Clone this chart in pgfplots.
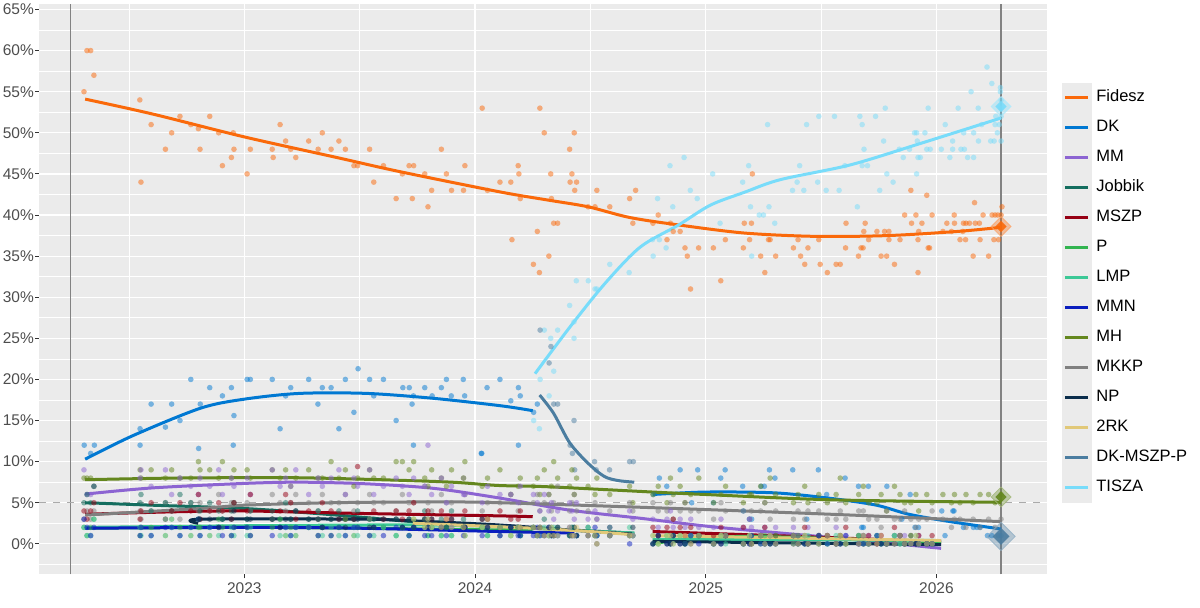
\documentclass[border=0pt]{standalone}
\usepackage{pgfplots}
\pgfplotsset{compat=1.18}
\usepackage{pgfplotstable}
\usepackage{fontspec}
\setmainfont{Liberation Sans}

\definecolor{cFid}{RGB}{250,105,10}
\definecolor{cDK}{RGB}{0,120,210}
\definecolor{cMM}{RGB}{140,100,210}
\definecolor{cJob}{RGB}{20,110,95}
\definecolor{cMSZP}{RGB}{150,0,20}
\definecolor{cP}{RGB}{50,180,80}
\definecolor{cLMP}{RGB}{60,200,150}
\definecolor{cMMN}{RGB}{10,30,190}
\definecolor{cMH}{RGB}{100,135,30}
\definecolor{cMKKP}{RGB}{128,128,128}
\definecolor{cNP}{RGB}{10,45,75}
\definecolor{cRK}{RGB}{225,200,120}
\definecolor{cDMP}{RGB}{75,125,160}
\definecolor{cTISZA}{RGB}{120,220,250}
\definecolor{panelbg}{RGB}{235,235,235}
\definecolor{tickgrey}{RGB}{77,77,77}
\definecolor{refgrey}{RGB}{130,130,130}

\pgfplotsset{
  pts/.style={only marks, mark=*, mark size=2.8pt, color=#1,
    mark options={draw opacity=0, fill opacity=0.5, fill=#1}, forget plot},
  trend/.style={no marks, line width=3pt, color=#1, smooth, line join=round, forget plot},
  halo/.style={forget plot, only marks, mark=square*, mark size=7pt,
    mark options={rotate=45, fill=#1, draw=#1!60!white, line width=0.8pt, fill opacity=0.35, draw opacity=0.8}},
  core/.style={forget plot, only marks, mark=square*, mark size=4pt,
    mark options={rotate=45, fill=#1, draw opacity=0, fill opacity=0.9}},
}

\pgfplotstableread{
x y
2022.305 55
2022.318 60
2022.334 60
2022.348 57
2022.547 54
2022.552 44
2022.596 51
2022.658 48
2022.685 50
2022.721 52
2022.768 51
2022.801 50.5
2022.808 48
2022.850 52
2022.889 50
2022.905 46
2022.944 47
2022.952 50
2022.955 48
2023.012 45
2023.026 48
2023.121 48
2023.125 47
2023.155 51
2023.179 49
2023.201 48
2023.223 47
2023.279 49
2023.320 48
2023.338 50
2023.376 48
2023.410 49
2023.438 48
2023.475 46
2023.491 46
2023.543 48
2023.561 44
2023.603 46
2023.658 42
2023.685 45
2023.714 46
2023.734 46
2023.728 42
2023.782 45
2023.796 41
2023.812 43
2023.854 48
2023.876 45
2023.898 43
2023.950 43
2023.956 46
2024.031 53
2024.054 43
2024.108 44
2024.155 44
2024.187 46
2024.190 45
2024.196 42
2024.160 37
2024.253 34
2024.270 38
2024.279 33
2024.281 53
2024.300 50
2024.320 35
2024.328 45
2024.331 42
2024.341 39
2024.358 39
2024.410 48
2024.420 45
2024.412 44
2024.430 50
2024.440 44
2024.432 43
2024.490 41
2024.520 41
2024.528 43
2024.584 41
2024.670 42
2024.696 43
2024.684 39
2024.771 39
2024.794 40
2024.847 39
2024.859 38
2024.889 38
2024.832 37
2024.910 36
2024.920 35
2024.934 31
2024.969 36
2025.033 36
2025.065 32
2025.085 37
2025.163 36
2025.167 39
2025.198 39
2025.190 37
2025.202 45
2025.238 35
2025.256 33
2025.272 37
2025.279 37
2025.303 35
2025.380 36
2025.400 37
2025.411 35
2025.429 34
2025.443 36
2025.490 37
2025.496 34
2025.527 33
2025.565 34
2025.583 34
2025.608 39
2025.606 36
2025.662 35
2025.673 36
2025.682 36
2025.685 38
2025.691 39
2025.706 37
2025.742 38
2025.760 35
2025.775 38
2025.794 38
2025.784 35
2025.794 37
2025.818 34
2025.842 37
2025.862 40
2025.889 43
2025.892 39
2025.911 40
2025.920 33
2025.923 38
2025.920 37
2025.937 39
2025.958 42.4
2025.964 36
2025.970 36
2025.981 40
2026.028 38
2026.045 39
2026.065 38
2026.077 40
2026.078 39
2026.102 37
2026.117 39
2026.126 37
2026.128 39
2026.143 39
2026.114 38
2026.159 35
2026.165 41.5
2026.168 39
2026.186 39
2026.189 37
2026.202 40
2026.226 35
2026.241 40
2026.254 40
2026.266 40
2026.280 40
2026.249 37
2026.269 37
2026.284 41
}\tFid

\pgfplotstableread{
x y
2024.254 15
2024.279 14
2024.282 20
2024.300 26
2024.321 18
2024.328 25
2024.341 21
2024.358 26
2024.410 29
2024.429 27
2024.429 25
2024.439 32
2024.491 32
2024.520 31
2024.528 31
2024.584 34
2024.668 33
2024.769 37
2024.772 35
2024.791 42
2024.799 37
2024.828 36
2024.845 46
2024.857 41
2024.906 47
2024.933 43
2024.963 42
2025.030 45
2025.062 39
2025.160 44
2025.186 46
2025.194 41
2025.199 35
2025.232 40
2025.250 40
2025.268 51
2025.274 41
2025.299 39
2025.376 43
2025.396 44
2025.407 46
2025.425 43
2025.437 51
2025.485 44
2025.490 52
2025.522 43
2025.558 52
2025.578 43
2025.603 46
2025.657 41
2025.668 52
2025.678 51
2025.678 46
2025.686 48
2025.701 46
2025.736 52
2025.754 43
2025.771 49
2025.778 53
2025.785 45
2025.812 44
2025.839 48
2025.856 47
2025.883 48
2025.905 50
2025.914 50
2025.914 45
2025.917 49
2025.920 47
2025.930 47
2025.950 50
2025.958 48
2025.964 53
2025.973 48
2026.021 48
2026.038 51
2026.058 47
2026.070 48
2026.070 49
2026.094 53
2026.106 48
2026.118 50
2026.121 48
2026.135 47
2026.150 55
2026.161 47
2026.161 50
2026.181 53
2026.182 49
2026.196 51
2026.219 58
2026.235 49
2026.240 56
2026.250 49
2026.254 51
2026.257 52
2026.264 50
2026.272 51
2026.277 55.5
2026.277 55
2026.280 53
2026.280 49
2026.280 52
2026.280 54
}\tTISZA

\pgfplotstableread{
x y
2022.306 12
2022.334 11
2022.350 12
2022.548 14
2022.548 12
2022.596 17
2022.658 14.2
2022.685 17
2022.721 15
2022.768 20
2022.802 11.6
2022.809 17
2022.850 19
2022.905 18
2022.944 19
2022.952 12
2022.955 15.6
2023.012 20
2023.026 20
2023.121 20
2023.155 14
2023.179 18
2023.201 19
2023.279 20
2023.319 17
2023.338 19
2023.376 19
2023.410 14
2023.438 20
2023.475 16
2023.493 21.3
2023.543 20
2023.561 18
2023.603 20
2023.658 15
2023.687 19
2023.715 19
2023.727 17
2023.733 18
2023.733 12
2023.782 19
2023.814 18
2023.854 19
2023.876 20
2023.897 18
2023.949 20
2023.955 18
2024.027 11
2024.029 11
2024.052 19
2024.108 20
2024.155 17.4
2024.188 12
2024.188 19
2024.196 18
2024.254 16
2024.270 17
2024.773 6
2024.799 8
2024.831 7
2024.889 9
2024.939 5
2024.965 9
2025.033 5
2025.065 8
2025.084 9
2025.160 7
2025.163 4
2025.189 3
2025.199 3
2025.240 7
2025.254 7
2025.276 9
2025.300 8
2025.377 9
2025.438 3
2025.488 9
2025.524 6
2025.604 8
2025.662 7
2025.676 2
2025.683 2
2025.705 7
2025.785 7
2025.850 3
2025.886 6
2025.907 2
2025.922 2
2026.023 4
2026.037 1
2026.071 4
2026.076 4
2026.117 2
2026.160 2
2026.175 2
2026.189 2
2026.221 1
2026.240 1
2026.268 1
2026.280 1
}\tDK

\pgfplotstableread{
x y
2024.282 26
2024.321 22
2024.329 24
2024.341 17
2024.358 17
2024.412 12
2024.422 11
2024.429 15
2024.432 9
2024.518 10
2024.525 9
2024.583 9
2024.670 10
2024.686 10
}\tDMP

\pgfplotstableread{
x MH MKKP MM JOB MSZP P LMP MMN NP RK
2022.305 8 3 9 5 4 2 2 3 nan nan
2022.318 8 4 6 6 3 1 1 2 nan nan
2022.334 8 3 6 5 4 2 1 1 nan nan
2022.348 7 4 7 7 5 3 3 2 nan nan
2022.548 9 4 8 5 3 1 2 1 nan nan
2022.552 8 3 9 6 4 2 1 2 nan nan
2022.596 9 4 7 4 5 2 1 1 nan nan
2022.658 8 5 9 5 3 1 3 2 nan nan
2022.685 9 4 6 4 4 3 2 2 nan nan
2022.721 8 3 8 6 5 2 1 1 nan nan
2022.768 8 5 7 5 4 1 2 2 nan nan
2022.801 10 4 6 3 6 2 3 3 3 nan
2022.808 9 5 8 4 3 2 1 1 3 nan
2022.850 9 4 7 5 4 1 2 2 3 nan
2022.889 8 6 9 4 5 3 1 2 2 nan
2022.905 10 4 6 3 4 2 3 1 3 nan
2022.944 8 5 8 4 3 1 2 1 3 nan
2022.955 9 5 7 5 5 2 1 2 4 nan
2023.012 9 5 8 3 4 2 1 2 3 nan
2023.026 8 4 6 4 6 1 2 1 3 nan
2023.121 9 6 9 4 3 2 3 1 3 nan
2023.155 8 5 7 3 4 3 1 2 2 nan
2023.179 9 4 8 5 6 1 2 2 3 nan
2023.201 7 5 7 3 5 2 1 1 3 nan
2023.223 8 6 9 4 3 1 2 2 4 nan
2023.279 9 5 6 3 4 2 2 2 3 nan
2023.320 8 4 8 4 3 1 3 1 3 nan
2023.338 8 6 7 2 5 2 1 2 2 nan
2023.376 10 5 8 3 4 1 2 1 3 nan
2023.410 8 5 9 4 3 2 1 2 3 nan
2023.438 9 6 6 3 3 3 1 1 2 nan
2023.475 7 4 8 3 3 1 2 2 3 nan
2023.491 8 5 7 4 9.4 2 1 2 3 nan
2023.543 9 6 9 3 3 1 3 1 2 nan
2023.561 8 5 6 3 4 2 1 2 2 nan
2023.603 8 5 7 2 3 2 2 1 3 nan
2023.658 10 4 8 3 4 1 1 2 3 nan
2023.685 10 6 7 2 3 2 2 2 2 nan
2023.714 9 5 6 3 4 1 1 1 3 nan
2023.734 10 5 8 2 5 3 2 2 2 3
2023.782 8 7 7 4 3 2 3 1 3 2
2023.796 7 5 12 3 4 1 1 2 2 3
2023.812 9 4 6 2 3 2 2 1 3 2
2023.854 8 6 8 3 4 1 1 2 2 2
2023.876 7 5 5 2 3 2 2 1 2 3
2023.898 9 5 7 4 3 1 1 2 3 2
2023.950 8 8 6 3 2 2 2 1 2 2
2023.956 10 6 6 2 4 1 1 2 2 1
2024.031 7 4 5 2 3 2 2 1 3 2
2024.054 8 5 7 3 3 1 1 2 2 3
2024.108 9 5 6 1 4 2 2 1 2 2
2024.155 6 6 6 2 3 1 1 2 2 1
2024.187 7 4 5 2 3 2 2 1 2 2
2024.196 8 5 7 1 4 1 1 1 2 2
}\tA

\pgfplotstableread{
x MH MKKP MM JOB LMP MMN NP RK
2024.253 7 5 6 2 2 1 2 2
2024.270 8 6 5 1 1 2 1 1
2024.281 6 4 4 2 1 1 2 2
2024.300 9 5 6 3 2 1 1 1
2024.320 6 6 4 1 1 2 2 1
2024.331 7 4 5 2 1 1 1 2
2024.341 10 5 3 1 2 1 1 1
2024.358 8 7 4 2 1 1 2 1
2024.410 7 4 5 1 1 2 1 2
2024.420 9 5 4 2 2 1 1 1
2024.430 6 6 3 2 1 1 2 1
2024.440 8 4 5 1 1 1 1 2
2024.490 7 4 3 2 2 1 1 1
2024.520 6 5 4 1 1 2 1 1
2024.528 8 3 3 1 1 1 0 0
2024.584 6 4 2 2 1 1 1 1
2024.670 7 5 4 1 2 0 1 1
2024.684 5 4 3 1 1 1 2 1
}\tB

\pgfplotstableread{
x MH MKKP MM MSZP P LMP MMN NP RK
2024.771 6 5 3 2 0 1 0 0 1
2024.794 7 4 2 1 0 0 1 1 0
2024.832 5 4 3 2 1 1 0 0 1
2024.847 8 5 4 1 0 1 0 0 1
2024.859 6 3 2 3 1 0 1 1 0
2024.889 7 4 3 2 1 1 0 0 1
2024.910 5 5 2 1 0 0 0 0 1
2024.935 6 4 3 2 1 1 1 0 0
2024.970 8 4 2 1 1 1 0 1 1
2025.034 5 3 2 1 0 0 0 0 0
2025.066 6 5 3 2 1 1 0 0 1
2025.086 7 4 1 1 1 0 1 1 1
2025.163 5 4 2 2 0 0 0 0 0
2025.190 6 3 3 1 1 1 0 0 1
2025.198 6 4 2 0 1 0 1 0 0
2025.238 7 4 1 1 0 1 0 1 1
2025.256 5 5 2 2 1 0 0 0 0
2025.279 8 3 1 1 0 1 0 0 1
2025.303 6 4 2 1 1 0 0 0 0
2025.380 5 3 2 0 1 0 1 1 1
2025.400 6 4 1 1 0 1 0 0 0
2025.429 7 3 1 2 1 0 0 0 1
2025.443 5 4 2 0 0 1 0 0 0
2025.490 6 4 1 1 1 0 1 0 0
2025.527 5 3 1 1 0 0 0 1 1
2025.565 6 3 2 0 0 1 0 0 0
2025.583 8 4 1 1 1 0 0 0 1
2025.607 5 3 1 2 0 0 1 0 0
2025.663 6 4 0 1 1 1 0 0 0
2025.683 7 4 1 0 0 0 0 1 1
2025.706 5 3 1 1 0 0 0 0 0
2025.742 5 3 0 0 1 1 1 0 0
2025.760 6 2 1 1 0 0 0 0 1
2025.784 4 4 0 0 0 0 0 0 0
2025.818 7 3 1 2 1 1 0 0 0
2025.842 6 3 0 1 0 0 1 1 1
2025.862 5 4 1 0 0 0 0 0 0
2025.889 5 3 0 1 1 0 0 0 0
2025.911 6 2 0 0 0 1 0 0 1
2025.923 4 3 1 1 0 0 0 0 0
2025.958 6 3 0 0 0 0 0 0 0
2025.981 5 4 0 1 0 0 0 0 0
2026.028 6 3 nan nan nan nan nan nan nan
2026.065 5 2 nan nan nan nan nan nan nan
2026.078 6 3 nan nan nan nan nan nan nan
2026.102 5 3 nan nan nan nan nan nan nan
2026.128 6 2 nan nan nan nan nan nan nan
2026.159 5 3 nan nan nan nan nan nan nan
2026.189 6 2 nan nan nan nan nan nan nan
2026.226 6 3 nan nan nan nan nan nan nan
2026.254 5 2 nan nan nan nan nan nan nan
2026.280 6 3 nan nan nan nan nan nan nan
}\tC

\begin{document}
\begin{tikzpicture}[x=1pt,y=1pt]
\useasboundingbox (0,0) rectangle (1200,608);
\begin{axis}[
  at={(39pt,33.5pt)}, anchor=south west,
  width=1008pt, height=570.5pt, scale only axis,
  xmin=2022.110, xmax=2026.479, ymin=-3.73, ymax=65.67,
  axis background/.style={fill=panelbg},
  axis line style={draw=none},
  xtick={2023,2024,2025,2026}, xticklabels={2023,2024,2025,2026},
  minor xtick={2022.5,2023.5,2024.5,2025.5},
  ytick={0,5,...,65},
  yticklabels={0\%,5\%,10\%,15\%,20\%,25\%,30\%,35\%,40\%,45\%,50\%,55\%,60\%,65\%},
  minor ytick={-2.5,2.5,...,62.5},
  grid=both,
  major grid style={white, line width=1.2pt},
  minor grid style={white, line width=0.6pt},
  tick pos=left, tick align=outside,
  major tick length=4pt, minor tick length=0pt,
  tick style={draw={rgb,255:red,51;green,51;blue,51}, line width=0.9pt},
  ticklabel style={font=\fontsize{15.5}{18}\selectfont, text=tickgrey},
  yticklabel style={inner sep=1pt},
  xticklabel style={inner sep=3.5pt},
  legend cell align=left,
  legend style={at={(1.0149,0.862)}, anchor=north west, draw=none, fill=none,
    inner sep=0pt, outer sep=0pt, row sep=0pt,
    font=\fontsize{16.5}{19}\selectfont,
    nodes={inner sep=0pt, text height=11.5pt, text depth=3.5pt},
    /tikz/every odd column/.append style={column sep=5pt}},
  legend image code/.code={\fill[panelbg] (-3pt,-14.8pt) rectangle (26pt,14.8pt);
    \draw[#1, line width=2.6pt] (0pt,0pt) -- (23pt,0pt);},
]
% reference lines
\addplot[forget plot, refgrey, line width=1.2pt] coordinates {(2022.247,-3.73) (2022.247,65.67)};
\addplot[forget plot, refgrey, line width=1.2pt] coordinates {(2026.280,-3.73) (2026.280,65.67)};
\addplot[forget plot, color={rgb,255:red,170;green,170;blue,170}, line width=1pt, dash pattern=on 7pt off 7pt] coordinates {(2022.110,5) (2026.479,5)};

% points
\addplot[pts=cFid] table[x=x,y=y]{\tFid};
\addplot[pts=cTISZA] table[x=x,y=y]{\tTISZA};
\addplot[pts=cDK] table[x=x,y=y]{\tDK};
\addplot[pts=cDMP] table[x=x,y=y]{\tDMP};
\addplot[pts=cMH] table[x=x,y=MH]{\tA};
\addplot[pts=cMKKP] table[x=x,y=MKKP]{\tA};
\addplot[pts=cMM] table[x=x,y=MM]{\tA};
\addplot[pts=cJob] table[x=x,y=JOB]{\tA};
\addplot[pts=cMSZP] table[x=x,y=MSZP]{\tA};
\addplot[pts=cP] table[x=x,y=P]{\tA};
\addplot[pts=cLMP] table[x=x,y=LMP]{\tA};
\addplot[pts=cMMN] table[x=x,y=MMN]{\tA};
\addplot[pts=cNP] table[x=x,y=NP]{\tA};
\addplot[pts=cRK] table[x=x,y=RK]{\tA};
\addplot[pts=cMH] table[x=x,y=MH]{\tB};
\addplot[pts=cMKKP] table[x=x,y=MKKP]{\tB};
\addplot[pts=cMM] table[x=x,y=MM]{\tB};
\addplot[pts=cJob] table[x=x,y=JOB]{\tB};
\addplot[pts=cLMP] table[x=x,y=LMP]{\tB};
\addplot[pts=cMMN] table[x=x,y=MMN]{\tB};
\addplot[pts=cNP] table[x=x,y=NP]{\tB};
\addplot[pts=cRK] table[x=x,y=RK]{\tB};
\addplot[pts=cMH] table[x=x,y=MH]{\tC};
\addplot[pts=cMKKP] table[x=x,y=MKKP]{\tC};
\addplot[pts=cMM] table[x=x,y=MM]{\tC};
\addplot[pts=cMSZP] table[x=x,y=MSZP]{\tC};
\addplot[pts=cP] table[x=x,y=P]{\tC};
\addplot[pts=cLMP] table[x=x,y=LMP]{\tC};
\addplot[pts=cMMN] table[x=x,y=MMN]{\tC};
\addplot[pts=cNP] table[x=x,y=NP]{\tC};
\addplot[pts=cRK] table[x=x,y=RK]{\tC};

% trend lines
\addplot[trend=cFid] coordinates {(2022.31,54.1) (2022.6,52.3) (2023.0,49.5) (2023.4,47.0) (2023.67,45.3) (2024.11,42.8) (2024.32,41.8) (2024.49,41.0) (2024.67,39.7) (2024.88,38.8) (2025.17,37.8) (2025.48,37.4) (2025.79,37.5) (2026.09,38.0) (2026.28,38.5)};
\addplot[trend=cDK] coordinates {(2022.31,10.3) (2022.52,13.2) (2022.81,16.5) (2023.0,17.6) (2023.24,18.3) (2023.53,18.3) (2023.82,17.7) (2024.11,16.8) (2024.25,16.2)};
\addplot[trend=cDK] coordinates {(2024.77,6.0) (2025.0,6.3) (2025.3,6.2) (2025.55,5.5) (2025.74,4.7) (2025.88,3.6) (2026.06,2.7) (2026.28,1.8)};
\addplot[trend=cMM] coordinates {(2022.31,6.05) (2022.6,6.8) (2023.0,7.35) (2023.24,7.5) (2023.53,7.3) (2023.82,6.75) (2024.1,5.6) (2024.41,4.1) (2024.72,3.1) (2025.02,2.1) (2025.33,1.3) (2025.63,0.55) (2026.02,-0.55)};
\addplot[trend=cJob] coordinates {(2022.31,5.0) (2022.6,4.7) (2023.0,4.3) (2023.4,3.5) (2023.73,2.7) (2024.1,2.1) (2024.4,1.7) (2024.69,1.3)};
\addplot[trend=cMSZP] coordinates {(2022.31,3.6) (2022.7,3.9) (2023.0,4.0) (2023.5,3.7) (2024.11,3.4) (2024.25,3.3)};
\addplot[trend=cMSZP] coordinates {(2024.77,1.5) (2025.4,0.9) (2026.02,0.25)};
\addplot[trend=cP] coordinates {(2022.31,1.9) (2023.0,2.0) (2023.5,1.9) (2024.1,1.7) (2024.25,1.7)};
\addplot[trend=cP] coordinates {(2024.77,0.0) (2024.95,0.7) (2025.2,0.9) (2025.6,0.6) (2026.02,0.2)};
\addplot[trend=cLMP] coordinates {(2022.31,2.0) (2023.0,2.2) (2023.73,2.3) (2024.1,2.1) (2024.4,1.7) (2024.69,1.3)};
\addplot[trend=cLMP] coordinates {(2024.77,0.5) (2025.4,0.5) (2026.02,0.4)};
\addplot[trend=cMMN] coordinates {(2022.31,1.9) (2023.0,2.0) (2023.5,1.9) (2024.1,1.5) (2024.43,1.3)};
\addplot[trend=cMH] coordinates {(2022.31,7.8) (2022.7,8.0) (2023.2,8.05) (2023.59,7.8) (2023.9,7.5) (2024.1,7.1) (2024.31,6.95) (2024.77,6.3) (2025.0,6.0) (2025.55,5.35) (2026.28,5.05)};
\addplot[trend=cMKKP] coordinates {(2022.31,3.5) (2022.81,4.3) (2023.0,4.7) (2023.38,5.0) (2023.82,5.1) (2024.11,5.0) (2024.87,4.3) (2025.63,3.5) (2026.28,2.7)};
\addplot[trend=cNP, smooth=false] coordinates {(2022.80,2.5) (2022.81,3.0) (2023.5,3.0) (2023.73,2.8) (2024.1,2.3) (2024.4,1.7) (2024.68,1.2)};
\addplot[trend=cNP] coordinates {(2024.77,0.3) (2025.4,0.1) (2026.02,-0.1)};
\addplot[trend=cRK] coordinates {(2023.73,2.5) (2024.0,2.2) (2024.25,1.9) (2024.5,1.5) (2024.69,1.1)};
\addplot[trend=cRK] coordinates {(2024.77,1.0) (2025.4,0.7) (2026.02,0.4)};
\addplot[trend=cDMP] coordinates {(2024.28,18.1) (2024.34,15.9) (2024.41,12.3) (2024.49,9.8) (2024.56,8.2) (2024.62,7.7) (2024.69,7.5)};
\addplot[trend=cTISZA] coordinates {(2024.26,20.7) (2024.412,26.4) (2024.564,31.7) (2024.716,36.1) (2024.883,38.8) (2025.02,41.2) (2025.171,42.8) (2025.323,44.3) (2025.627,46.1) (2025.93,48.7) (2026.28,51.8)};

% final diamonds
\addplot[halo=cFid] coordinates {(2026.28,38.6)};
\addplot[core=cFid] coordinates {(2026.28,38.6)};
\addplot[halo=cTISZA] coordinates {(2026.28,53.2)};
\addplot[core=cTISZA] coordinates {(2026.28,53.2)};
\addplot[halo=cMH] coordinates {(2026.28,5.7)};
\addplot[core=cMH] coordinates {(2026.28,5.7)};
\addplot[halo=cDMP, mark size=10pt] coordinates {(2026.28,0.9)};
\addplot[core=cDMP, mark size=6pt] coordinates {(2026.28,0.9)};

% legend
\addlegendimage{color=cFid}\addlegendentry{Fidesz}
\addlegendimage{color=cDK}\addlegendentry{DK}
\addlegendimage{color=cMM}\addlegendentry{MM}
\addlegendimage{color=cJob}\addlegendentry{Jobbik}
\addlegendimage{color=cMSZP}\addlegendentry{MSZP}
\addlegendimage{color=cP}\addlegendentry{P}
\addlegendimage{color=cLMP}\addlegendentry{LMP}
\addlegendimage{color=cMMN}\addlegendentry{MMN}
\addlegendimage{color=cMH}\addlegendentry{MH}
\addlegendimage{color=cMKKP}\addlegendentry{MKKP}
\addlegendimage{color=cNP}\addlegendentry{NP}
\addlegendimage{color=cRK}\addlegendentry{2RK}
\addlegendimage{color=cDMP}\addlegendentry{DK-MSZP-P}
\addlegendimage{color=cTISZA}\addlegendentry{TISZA}
\end{axis}
\end{tikzpicture}
\end{document}
